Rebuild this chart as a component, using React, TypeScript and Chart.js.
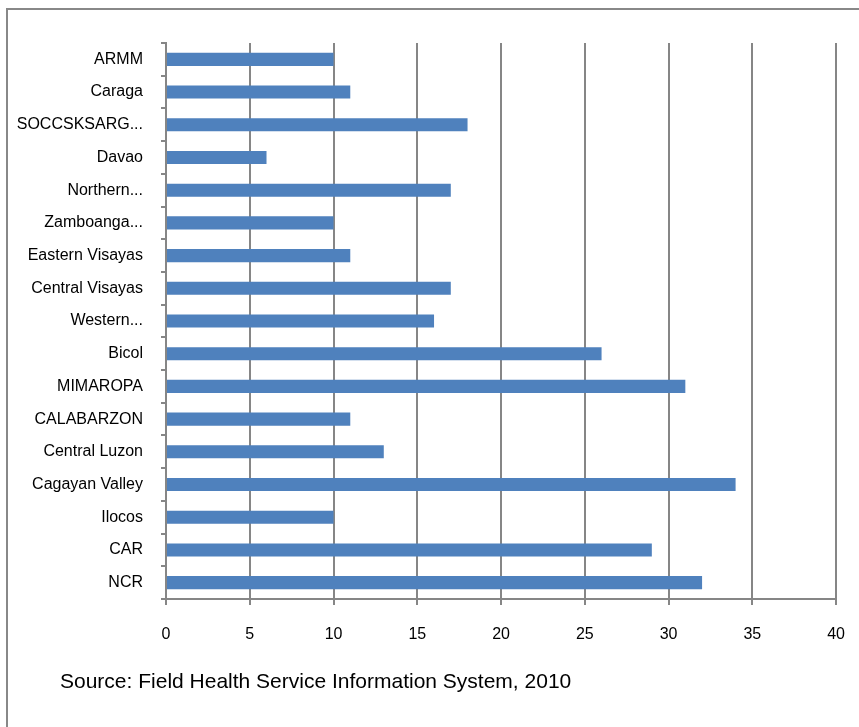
import React, { useEffect, useRef } from "react";
import { Chart, registerables } from "chart.js";

Chart.register(...registerables);

const categories = [
  "ARMM",
  "Caraga",
  "SOCCSKSARG...",
  "Davao",
  "Northern...",
  "Zamboanga...",
  "Eastern Visayas",
  "Central Visayas",
  "Western...",
  "Bicol",
  "MIMAROPA",
  "CALABARZON",
  "Central Luzon",
  "Cagayan Valley",
  "Ilocos",
  "CAR",
  "NCR",
];
const values = [10, 11, 18, 6, 17, 10, 11, 17, 16, 26, 31, 11, 13, 34, 10, 29, 32];
const xMin = 0;
const xMax = 40;
const xStep = 5;
const sourceNote = "Source: Field Health Service Information System, 2010";

const FONT = "'Liberation Sans', Arial, sans-serif";
const GRID = "#868686";

export default function App() {
  const ref = useRef<HTMLCanvasElement | null>(null);

  useEffect(() => {
    if (!ref.current) return;
    const chart = new Chart(ref.current, {
      type: "bar",
      data: {
        labels: categories,
        datasets: [
          {
            data: values,
            backgroundColor: "#4F81BD",
            borderWidth: 0,
            barPercentage: 0.4,
            categoryPercentage: 1,
          },
        ],
      },
      options: {
        indexAxis: "y",
        responsive: false,
        animation: false,
        layout: { padding: { top: 43, right: 0, left: 0, bottom: 0 } },
        scales: {
          x: {
            min: xMin,
            max: xMax,
            ticks: {
              stepSize: xStep,
              padding: 20,
              color: "#000",
              font: { family: FONT, size: 16 },
            },
            grid: { color: GRID, lineWidth: 2, tickLength: 6, drawTicks: true },
            border: { color: GRID, width: 2 },
            afterFit: (s: any) => {
              s.height = 128;
            },
          },
          y: {
            ticks: {
              padding: 18,
              color: "#000",
              autoSkip: false,
              font: { family: FONT, size: 16 },
            },
            grid: {
              drawOnChartArea: false,
              tickLength: 5,
              color: GRID,
              lineWidth: 2,
              offset: true,
            },
            border: { color: GRID, width: 2 },
            afterFit: (s: any) => {
              s.width = 166;
            },
          },
        },
        plugins: {
          legend: { display: false },
          tooltip: { enabled: false },
        },
      },
    });
    return () => chart.destroy();
  }, []);

  return (
    <div
      style={{
        position: "fixed",
        left: 0,
        top: 0,
        width: 859,
        height: 727,
        overflow: "hidden",
        background: "#fff",
      }}
    >
      <div
        style={{
          position: "absolute",
          left: 6,
          top: 8,
          width: 900,
          height: 800,
          borderLeft: "2px solid #888",
          borderTop: "2px solid #888",
        }}
      />
      <canvas
        ref={ref}
        width={865}
        height={727}
        style={{ position: "absolute", left: 0, top: 0 }}
      />
      <div
        style={{
          position: "absolute",
          left: 60,
          top: 668,
          fontFamily: FONT,
          fontSize: 21,
          color: "#000",
          whiteSpace: "nowrap",
          lineHeight: "26px",
        }}
      >
        {sourceNote}
      </div>
    </div>
  );
}
